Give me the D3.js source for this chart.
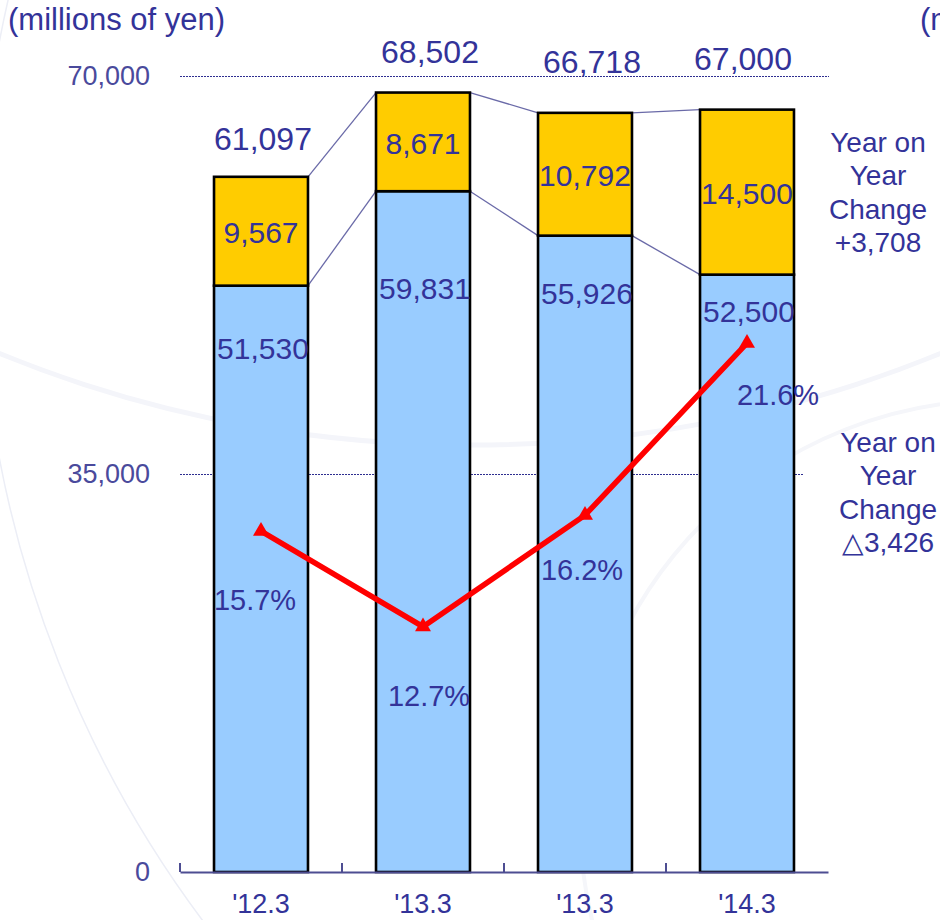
<!DOCTYPE html>
<html>
<head>
<meta charset="utf-8">
<script src="https://cdn.jsdelivr.net/npm/d3@7"></script>
<style>
  html, body { margin: 0; padding: 0; background: #ffffff; }
  svg { display: block; font-family: "Liberation Sans", Arial, sans-serif; }
</style>
</head>
<body>
<svg id="chart" width="940" height="920"></svg>
<script>
// Fiscal periods (the middle two share the same label)
const periods = ["'12.3", "'13.3", "'13.3", "'14.3"];
// Lower (blue) segment, millions of yen
const baseValues = [51530, 59831, 55926, 52500];
// Upper (yellow) segment, millions of yen
const topValues = [9567, 8671, 10792, 14500];
// Stack totals as labelled
const totals = [61097, 68502, 66718, 67000];
// Ratio line, percent
const ratios = [15.7, 12.7, 16.2, 21.6];
// Value axis ticks
const yTicks = [0, 35000, 70000];
// Side notes
const noteUpper = ["Year on", "Year", "Change", "+3,708"];
const noteLower = ["Year on", "Year", "Change", "\u25B33,426"];

// Label placement tweaks (pixels)
const totalLift = [27, 30, 40, 40];
const totalShift = [2, 7, 7, -4];
const baseDrop = [73, 108, 68, 47];
const ratioDrop = [79, 79, 65, 62];
const ratioShift = [-6, 6, -3, 31];

const textColor = "#333399";
const svg = d3.select("#chart");

// Faint decorative arcs in the background
const deco = svg.append("g").attr("fill", "none");
deco.append("circle").attr("cx", 1100).attr("cy", 250).attr("r", 1120)
  .attr("stroke", "#eceef6").attr("stroke-width", 1.5);
deco.append("ellipse").attr("cx", 470).attr("cy", -420).attr("rx", 1050).attr("ry", 865)
  .attr("stroke", "#f4f5fa").attr("stroke-width", 5);
deco.append("ellipse").attr("cx", 1000).attr("cy", 820).attr("rx", 420).attr("ry", 420)
  .attr("stroke", "#f5f6fa").attr("stroke-width", 4);

const idx = d3.range(periods.length);
const x = d3.scaleBand().domain(idx).range([180, 828]).paddingInner(0.42).paddingOuter(0.21);
const y = d3.scaleLinear().domain([0, 70000]).range([872, 75.5]);
const yPct = d3.scaleLinear().domain([5, 30]).range([872, 75.5]);
const cx = i => x(i) + x.bandwidth() / 2;

// Unit caption (and the clipped caption of the neighbouring panel)
svg.append("text").attr("x", 8).attr("y", 30).attr("font-size", 31)
  .attr("fill", textColor).text("(millions of yen)");
svg.append("text").attr("x", 920).attr("y", 30).attr("font-size", 31)
  .attr("fill", textColor).text("(millions of yen)");

// Dotted gridlines
const gridEnds = {35000: 804, 70000: 829};
svg.append("g").selectAll("line").data(yTicks.filter(d => d > 0)).join("line")
  .attr("x1", 180).attr("x2", d => gridEnds[d])
  .attr("y1", d => Math.round(y(d)) + 0.5).attr("y2", d => Math.round(y(d)) + 0.5)
  .attr("stroke", "#2e2e90").attr("stroke-width", 1).attr("stroke-dasharray", "2,1")
  .attr("shape-rendering", "crispEdges");

// Value axis labels
const yAxis = d3.axisLeft(y).tickValues(yTicks).tickFormat(d3.format(",")).tickSize(0).tickPadding(30);
const gy = svg.append("g").attr("transform", "translate(180,0)").call(yAxis);
gy.select(".domain").remove();
gy.selectAll("text").attr("font-size", 27).attr("fill", "#4a4a9c")
  .attr("font-family", "'Liberation Sans', Arial, sans-serif");

// Connector lines between adjacent stacks
const conn = svg.append("g").attr("stroke", "#6a6aa8").attr("stroke-width", 1.3);
idx.slice(0, -1).forEach(i => {
  const xr = x(i) + x.bandwidth(), xl = x(i + 1);
  conn.append("line").attr("x1", xr).attr("x2", xl)
    .attr("y1", y(baseValues[i] + topValues[i])).attr("y2", y(baseValues[i + 1] + topValues[i + 1]));
  conn.append("line").attr("x1", xr).attr("x2", xl)
    .attr("y1", y(baseValues[i])).attr("y2", y(baseValues[i + 1]));
});

// Stacked bars
const bars = svg.append("g").attr("stroke", "#000").attr("stroke-width", 2.6);
bars.selectAll("rect.base").data(idx).join("rect").attr("class", "base")
  .attr("x", i => x(i)).attr("width", x.bandwidth())
  .attr("y", i => y(baseValues[i])).attr("height", i => y(0) - y(baseValues[i]))
  .attr("fill", "#99ccff");
bars.selectAll("rect.top").data(idx).join("rect").attr("class", "top")
  .attr("x", i => x(i)).attr("width", x.bandwidth())
  .attr("y", i => y(baseValues[i] + topValues[i])).attr("height", i => y(baseValues[i]) - y(baseValues[i] + topValues[i]))
  .attr("fill", "#ffcc00");

// Category axis
const xAxis = d3.axisBottom(x).tickFormat(i => periods[i]).tickSize(0).tickPadding(22);
const gx = svg.append("g").attr("transform", "translate(0,872)").call(xAxis);
gx.select(".domain").attr("stroke", "#4d4d92").attr("stroke-width", 2);
gx.selectAll("text").attr("font-size", 27).attr("fill", textColor)
  .attr("font-family", "'Liberation Sans', Arial, sans-serif");
const boundaries = idx.map(i => x(i) - x.step() * x.paddingInner() / 2);
boundaries[0] = 180;
gx.selectAll("line.sep").data(boundaries).join("line").attr("class", "sep")
  .attr("x1", d => d).attr("x2", d => d).attr("y1", 0).attr("y2", -9)
  .attr("stroke", "#4d4d92").attr("stroke-width", 2);

// Segment labels
const labels = svg.append("g").attr("fill", textColor).attr("text-anchor", "middle");
labels.selectAll("text.tot").data(idx).join("text").attr("class", "tot")
  .attr("x", i => cx(i) + totalShift[i]).attr("y", i => y(totals[i]) - totalLift[i])
  .attr("font-size", 32).text(i => d3.format(",")(totals[i]));
labels.selectAll("text.topv").data(idx).join("text").attr("class", "topv")
  .attr("x", cx)
  .attr("y", i => (y(baseValues[i]) + y(baseValues[i] + topValues[i])) / 2 + 12)
  .attr("font-size", 30).text(i => d3.format(",")(topValues[i]));
labels.selectAll("text.basev").data(idx).join("text").attr("class", "basev")
  .attr("x", i => cx(i) + 2).attr("y", i => y(baseValues[i]) + baseDrop[i])
  .attr("font-size", 30).text(i => d3.format(",")(baseValues[i]));

// Ratio line with triangle markers
const line = d3.line().x((d, i) => cx(i)).y(d => yPct(d));
svg.append("path").datum(ratios).attr("d", line)
  .attr("fill", "none").attr("stroke", "#ff0000").attr("stroke-width", 5.5)
  .attr("stroke-linejoin", "miter");
svg.append("g").selectAll("path").data(ratios).join("path")
  .attr("d", d3.symbol(d3.symbolTriangle, 110))
  .attr("transform", (d, i) => `translate(${cx(i)},${yPct(d)})`)
  .attr("fill", "#ff0000");
labels.selectAll("text.pct").data(idx).join("text").attr("class", "pct")
  .attr("x", i => cx(i) + ratioShift[i]).attr("y", i => yPct(ratios[i]) + ratioDrop[i])
  .attr("font-size", 29).text(i => ratios[i].toFixed(1) + "%");

// Side notes
const notes = svg.append("g").attr("fill", textColor).attr("text-anchor", "middle").attr("font-size", 28);
notes.selectAll("text.u").data(noteUpper).join("text").attr("class", "u")
  .attr("x", 878).attr("y", (d, i) => 152 + i * 33.3).text(d => d);
notes.selectAll("text.l").data(noteLower).join("text").attr("class", "l")
  .attr("x", 888).attr("y", (d, i) => 452 + i * 33.3).text(d => d);
</script>
</body>
</html>
